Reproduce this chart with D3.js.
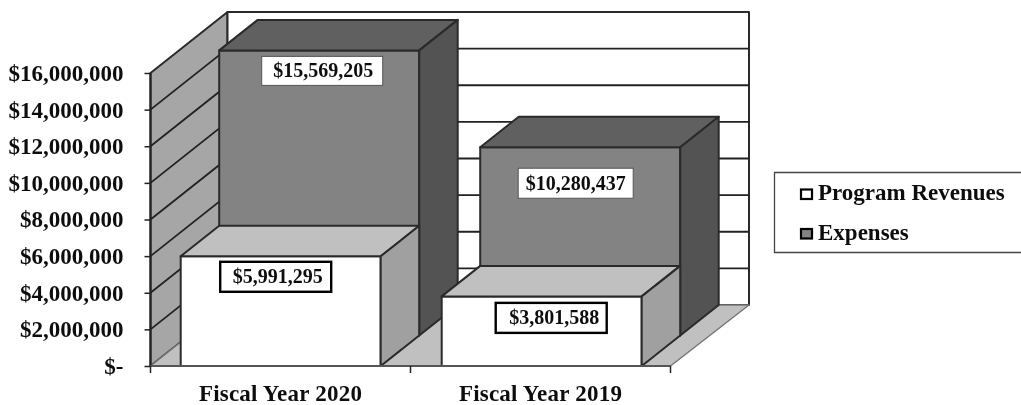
<!DOCTYPE html>
<html><head><meta charset="utf-8">
<script src="https://cdn.jsdelivr.net/npm/d3@7/dist/d3.min.js"></script>
<style>
html,body{margin:0;padding:0;background:#fff;overflow:hidden}
text{font-family:"Liberation Serif",serif;font-weight:bold;fill:#111}
</style></head><body>
<svg id="c" width="1021" height="405"></svg>
<script>
const categories = ["Fiscal Year 2020", "Fiscal Year 2019"];
const programRevenues = [5991295, 3801588];
const expenses = [15569205, 10280437];
const yTicks = [0, 2000000, 4000000, 6000000, 8000000, 10000000, 12000000, 14000000, 16000000];
const seriesNames = ["Program Revenues", "Expenses"];

const svg = d3.select("#c");
const defs = svg.append("defs");
defs.append("filter").attr("id","soft").append("feGaussianBlur").attr("stdDeviation",0.45);
const root = svg.append("g").attr("filter","url(#soft)");

const x0 = 150.5, x1 = 670.5, yBase = 366, yTop = 73;
const depthX = 77, depthY = 61;
const x = d3.scaleBand().domain(categories).range([x0, x1]);
const xBars = d3.scaleBand().domain(categories).range([150.2, 672.2]);
const y = d3.scaleLinear().domain([0, 16000000]).range([yBase, yTop]);
const barWidth = xBars.bandwidth() * 200 / 261;
const P = (px, val, d) => [px + depthX * d, y(val) - depthY * d];
const poly = (pts, fill, sw = 2, stroke = "#2b2b2b") => root.append("polygon")
  .attr("points", pts.map(p => p.join(",")).join(" "))
  .attr("fill", fill).attr("stroke", stroke).attr("stroke-width", sw).attr("stroke-linejoin","round");

// walls and floor
const vMax = y.domain()[1];
const xr = x1 + 1.5;
poly([P(x0,0,0),P(x0,vMax,0),P(x0,vMax,1),P(x0,0,1)], "#a6a6a6");
poly([P(x0,0,1),P(x0,vMax,1),P(xr,vMax,1),P(xr,0,1)], "#fff");
poly([P(x0,0,0),P(x0,0,1),P(xr,0,1),P(x1,0,0)], "#c0c0c0", 1.5, "#777");
root.append("g").selectAll("path").data(yTicks.slice(1,-1)).join("path")
  .attr("fill","none").attr("stroke","#222").attr("stroke-width",1.8)
  .attr("d", v => d3.line()([P(x0,v,0),P(x0,v,1),P(xr,v,1)]));

function bar(cat, val, d0, d1, front, top, side) {
  const l = xBars(cat) + (xBars.bandwidth() - barWidth) / 2, r = l + barWidth;
  poly([P(l,0,d0),P(r,0,d0),P(r,val,d0),P(l,val,d0)], front);
  poly([P(l,val,d0),P(r,val,d0),P(r,val,d1),P(l,val,d1)], top);
  poly([P(r,0,d0),P(r,val,d0),P(r,val,d1),P(r,0,d1)], side);
}
categories.forEach((c,i) => bar(c, expenses[i], 0.5, 1, "#838383", "#616161", "#525252"));
categories.forEach((c,i) => bar(c, programRevenues[i], 0, 0.5, "#fff", "#c0c0c0", "#a0a0a0"));

// data labels
function label(cat, val, d, dx, dy, w, h, sw, tx) {
  const [cx, ty] = P(xBars(cat) + xBars.bandwidth()/2, val, d);
  const bx = cx + dx, by = ty + dy;
  root.append("rect").attr("x",bx-w/2).attr("y",by-h/2).attr("width",w).attr("height",h)
    .attr("fill","#fff").attr("stroke", sw>1.5?"#000":"#555").attr("stroke-width",sw);
  root.append("text").attr("x",bx+tx).attr("y",by+6.5).attr("text-anchor","middle")
    .style("font-size","20px").text("$"+d3.format(",")(val));
}
label(categories[0], expenses[0], 0.5, 3, 20.5, 121, 29, 1, 1);
label(categories[1], expenses[1], 0.5, -4.5, 36, 115, 30, 1, 0);
label(categories[0], programRevenues[0], 0, -5, 20.5, 111, 30, 2.4, 2);
label(categories[1], programRevenues[1], 0, 9.5, 21.5, 111, 30, 2.4, 3);

// axes
const yAxis = root.append("g").attr("transform",`translate(${x0},0)`)
  .call(d3.axisLeft(y).tickValues(yTicks).tickSize(6).tickPadding(21)
    .tickFormat(v => v === 0 ? "$-" : "$" + d3.format(",")(v)));
yAxis.select(".domain").attr("stroke","#222").attr("stroke-width",2).attr("d",`M0,${yBase}V${yTop}`);
yAxis.selectAll("line").attr("stroke","#222").attr("stroke-width",1.5);
yAxis.selectAll("text").style("font-size","23px").attr("fill",null).attr("dy","0.32em").attr("font-family",null);

const xAxis = root.append("g").attr("transform",`translate(0,${yBase})`)
  .call(d3.axisBottom(x).tickSize(0).tickPadding(19));
xAxis.select(".domain").attr("stroke","#555").attr("stroke-width",2).attr("d",`M${x0},0H${x1}`);
xAxis.selectAll("text").style("font-size","23px").attr("letter-spacing","0.22px").attr("fill",null).attr("font-family",null);
xAxis.selectAll("line.b").data(x.domain().map(c=>x(c)).concat([x1])).join("line").attr("class","b")
  .attr("x1",d=>d).attr("x2",d=>d).attr("y1",0).attr("y2",7).attr("stroke","#222").attr("stroke-width",1.5);

// legend
root.append("path").attr("d","M1022,172.5H774.5V252.5H1022").attr("fill","#fff").attr("stroke","#444").attr("stroke-width",1.3);
const leg = root.append("g").selectAll("g").data(seriesNames).join("g")
  .attr("transform",(d,i)=>`translate(800,${188.5+i*39.5})`);
leg.append("rect").attr("x",1).attr("y",1).attr("width",11).attr("height",9.5)
  .attr("fill",(d,i)=>i?"#838383":"#fff").attr("stroke","#000").attr("stroke-width",2.2);
leg.append("text").attr("x",18).attr("y",11.5).style("font-size","23px").text(d=>d);
</script></body></html>
